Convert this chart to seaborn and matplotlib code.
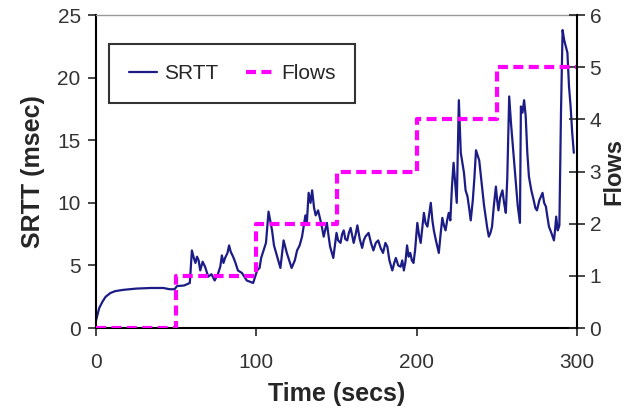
import matplotlib
matplotlib.use("Agg")
import matplotlib.pyplot as plt
import seaborn as sns
import pandas as pd

# ---- data ----
time_s = [0, 2, 4, 6, 9, 12, 17, 25, 34, 42, 46, 49, 50.5, 55, 58.5, 59.8, 61, 62, 63, 64, 65,
          66.5, 68, 69, 70, 72, 74, 76, 77.5, 78.5, 79.5, 80.5, 82, 83, 84, 85.5, 87, 88.5,
          91, 94, 98, 100.5, 102, 103, 104.5, 106, 107.6, 109.8, 111, 113, 115, 117, 119,
          122, 124, 125.4, 127, 128.5, 130.6, 131.5, 132.6, 133.8, 134.8, 136, 137, 138.5,
          140, 141, 142, 144, 145, 146, 148, 149, 150, 151, 152.5, 153.5, 154.5, 155.5,
          156.7, 157.7, 158.8, 160.7, 161.8, 163, 164.5, 166, 167, 168, 170, 171.5, 173, 174.5,
          176, 177.5, 179, 180.5, 181.7, 183, 184.8, 186, 187, 188.5, 190, 191, 192, 193,
          194, 195, 196, 197, 198, 199, 200.4, 201.5, 202.5, 203.5, 204.5, 205.5, 206.7,
          207.7, 208.8, 209.8, 210.7, 212, 213.8, 215, 216, 217, 218, 219, 220, 221, 222,
          223, 224, 225, 226.3, 227.5, 228.5, 229.5, 230.5, 231.7, 232.7, 233.7, 235, 236,
          237, 238, 239, 240, 241, 242, 243, 244, 245, 246, 247, 248, 249.4, 250.2, 251, 252,
          253.5, 254.5, 255.6, 256.5, 257.7, 258.8, 260, 261, 262, 263, 264.4, 265, 266,
          267, 268, 269, 270, 271.5, 273, 274, 275, 276.5, 278.5, 279.5, 280.6, 281.5,
          282.5, 284, 285.6, 286.3, 287, 288, 289, 290, 291, 292, 294, 295, 296, 297, 298]
srtt_ms = [0.6, 1.6, 2.1, 2.5, 2.8, 2.95, 3.05, 3.15, 3.2, 3.2, 3.1, 3.1, 3.35, 3.4, 3.6, 6.2,
           5.6, 5.2, 5.7, 5.4, 4.6, 5.3, 4.9, 4.5, 4.1, 4.3, 3.8, 4.3, 4.9, 5.8, 5.2, 5.6,
           6.0, 6.6, 6.1, 5.7, 5.2, 4.6, 4.4, 3.8, 3.6, 4.6, 4.8, 5.6, 6.2, 6.8, 9.3, 7.8,
           6.6, 5.7, 4.8, 7.0, 6.0, 4.8, 5.4, 6.2, 6.6, 7.3, 9.0, 8.4, 10.8, 10.0, 11.0, 9.6,
           9.0, 9.4, 8.6, 8.0, 7.3, 8.4, 7.4, 6.5, 5.6, 6.6, 7.6, 7.0, 6.8, 7.5, 7.8, 7.1,
           7.0, 7.6, 8.0, 6.8, 7.4, 8.2, 7.1, 6.4, 7.0, 7.3, 7.6, 6.8, 6.2, 6.8, 7.0, 6.4,
           6.0, 6.8, 6.5, 5.4, 4.6, 5.2, 5.6, 5.0, 4.9, 5.4, 4.6, 5.3, 6.6, 5.7, 6.0, 5.4,
           5.2, 6.2, 8.4, 7.4, 6.8, 8.0, 9.2, 8.4, 8.1, 9.0, 10.0, 8.6, 7.8, 7.0, 6.0, 7.6,
           8.8, 8.2, 7.8, 8.6, 9.2, 8.6, 11.3, 13.2, 11.6, 10.0, 18.2, 14.0, 13.2, 12.4, 11.0,
           10.5, 9.6, 8.6, 10.2, 12.0, 14.2, 13.8, 13.4, 12.2, 11.0, 9.8, 8.9, 8.0, 7.3, 7.6,
           8.1, 9.6, 11.3, 10.2, 9.4, 10.4, 11.0, 10.0, 9.2, 12.0, 18.5, 16.4, 14.5, 13.0,
           11.3, 9.8, 8.4, 17.7, 17.2, 18.2, 16.9, 14.0, 12.1, 11.0, 10.2, 9.6, 9.4, 10.2,
           10.8, 10.0, 9.7, 8.9, 8.1, 7.6, 7.0, 7.8, 8.9, 7.8, 8.2, 17.2, 23.8, 23.0, 22.0,
           19.3, 17.7, 15.6, 14.0]

flow_time = [0, 50, 100, 150, 200, 250, 300]
flow_count = [0, 1, 2, 3, 4, 5, 5]

x_ticks = [0, 100, 200, 300]
y_ticks = [0, 5, 10, 15, 20, 25]
y2_ticks = [0, 1, 2, 3, 4, 5, 6]

sns.set_style("white")
plt.rcParams["font.family"] = ["Liberation Sans", "DejaVu Sans"]

fig = plt.figure(figsize=(6.3, 4.07), dpi=100)
ax = fig.add_axes([0.1524, 0.194, 0.7635, 0.769])

srtt_df = pd.DataFrame({"t": time_s, "v": srtt_ms})
flow_df = pd.DataFrame({"t": flow_time, "f": flow_count})

sns.lineplot(data=srtt_df, x="t", y="v", ax=ax, color="#1c1c86", linewidth=1.6,
             label="SRTT", legend=False)

ax2 = ax.twinx()
sns.lineplot(data=flow_df, x="t", y="f", ax=ax2, color="#ff00ff", linewidth=3.0,
             drawstyle="steps-post", label="Flows", legend=False)
ax2.lines[0].set_dashes([2.4, 1.3])

ax.set_xlim(0, 300)
ax.set_ylim(0, 25)
ax2.set_ylim(0, 6)
ax.set_xticks(x_ticks)
ax.set_yticks(y_ticks)
ax2.set_yticks(y2_ticks)

tick_col = "#333333"
ax.tick_params(axis="x", direction="out", length=6, width=1.2, labelsize=15,
               labelcolor=tick_col, bottom=True, pad=12)
ax.tick_params(axis="y", direction="out", length=6, width=1.2, labelsize=15,
               labelcolor=tick_col, left=True, pad=5)
ax2.tick_params(axis="y", direction="inout", length=12, width=1.2, labelsize=15,
                labelcolor=tick_col, right=True, pad=3)

ax.set_xlabel("Time (secs)", fontsize=18, fontweight="bold", labelpad=7)
ax.set_ylabel("SRTT (msec)", fontsize=18, fontweight="bold", labelpad=9)
ax2.set_ylabel("Flows", fontsize=17, fontweight="bold", labelpad=1, rotation=90)

for sp in ["left", "bottom"]:
    ax.spines[sp].set_color("black")
    ax.spines[sp].set_linewidth(1.5)
ax.spines["right"].set_visible(False)
ax.spines["top"].set_color("#999999")
ax.spines["top"].set_linewidth(1.0)
ax2.spines["right"].set_color("black")
ax2.spines["right"].set_linewidth(1.5)
ax2.spines["top"].set_visible(False)
ax2.spines["left"].set_visible(False)
ax2.spines["bottom"].set_visible(False)
ax.grid(False)
ax2.grid(False)

h1, l1 = ax.get_legend_handles_labels()
h2, l2 = ax2.get_legend_handles_labels()
leg = ax2.legend(h1 + h2, l1 + l2, loc="upper left", bbox_to_anchor=(0.027, 0.907),
                 borderaxespad=0, ncol=2, fontsize=15, frameon=True, fancybox=False,
                 handlelength=1.35, handletextpad=0.35, columnspacing=1.3,
                 borderpad=0.95)
leg.get_frame().set_edgecolor("black")
leg.get_frame().set_linewidth(1.5)

fig.savefig("out.png", dpi=100)
